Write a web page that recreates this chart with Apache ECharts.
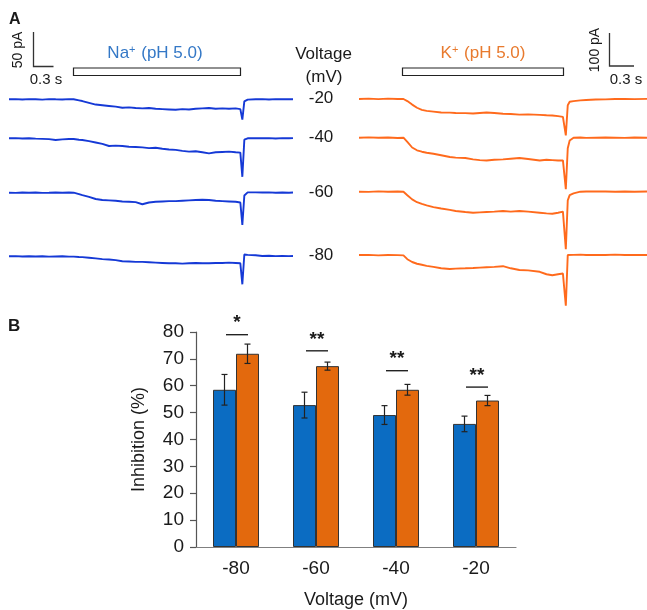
<!DOCTYPE html>
<html><head><meta charset="utf-8">
<script src="https://cdn.jsdelivr.net/npm/echarts@6/dist/echarts.min.js"></script>
<style>html,body{margin:0;padding:0;background:#fff}#c{width:647px;height:610px}</style>
</head><body><div id="c"></div><script>
// ---------- Panel A: current traces ----------
var traceVoltages = ['-20', '-40', '-60', '-80'];
// Na+ (pH 5.0) traces: time (s) and current (pA)
var naTime = [0,0.1,0.2,0.3,0.4,0.5,0.6,0.7,0.8,0.9,0.97,1.05,1.1,1.2,1.3,1.4,1.5,1.6,1.7,1.8,1.9,2.0,2.1,2.2,2.3,2.4,2.5,2.6,2.7,2.8,2.9,3.0,3.1,3.2,3.3,3.4,3.47,3.5,3.53,3.58,3.7,3.8,3.9,4.0,4.1,4.2,4.26];
var naM20 = [0,0.3,-0.3,0.2,0,-0.4,0.3,0,-0.2,0.3, 0,-1.5, -2.5,-5,-7.5,-8.5,-9.5,-10.5,-12,-11.5,-12.5,-13,-12.5,-13.5,-14,-14.5,-15,-14,-14.5,-13.5,-13,-12.5,-13.5,-13,-13.5,-13, -14,-29,-3,-0.5, 0,0.3,-0.2,0.2,0,0.3,0];
var naM40 = [0,0.2,-0.3,0,-0.5,-0.8,-1.2,-2.4,-1.5,-1, -1,-2, -2.5,-4,-6,-8,-11,-10.5,-11,-12,-12.5,-13,-14,-13.5,-15,-16,-16.5,-18,-19,-18.5,-20,-21.5,-20,-19.5,-19,-20, -20.5,-55,-2,0, 0.3,0,0.2,-0.2,0.2,0,0.2];
var naM60 = [0,-0.3,0.2,0,0.3,-0.2,0,0.3,0,0.2, 0,-2, -3.5,-6,-9,-10.5,-11,-11.5,-12.5,-13,-13.5,-16.5,-14,-13,-12.5,-12,-12,-11.5,-11,-10.5,-10,-10.5,-11.5,-12,-12.5,-13, -14,-46,-4,0.5, 0.5,0.2,0.4,0,0.3,0,0.2];
var naM80 = [0,0.3,-0.2,0,-0.3,0,-0.4,-0.2,0,-0.5, -0.5,-1, -1.2,-2,-3,-4,-4.5,-5.5,-7,-7.5,-8,-8,-8.5,-9,-9.5,-10,-10,-10.5,-10,-9.5,-10,-10,-9.5,-9.5,-9,-9.5, -10,-40,2.5,2, 1.5,0.5,0.8,0.3,0.5,0.2,0.5];
// K+ (pH 5.0) traces
var kTime = [0,0.1,0.2,0.3,0.4,0.46,0.5,0.55,0.6,0.65,0.7,0.77,0.85,0.94,1.0,1.1,1.18,1.25,1.32,1.4,1.49,1.57,1.66,1.75,1.87,1.94,2.0,2.06,2.11,2.14,2.16,2.18,2.22,2.29,2.35,2.45,2.55,2.65,2.75,2.85,2.98];
var kM20 = [0,1,-0.5,1,0, 0, -6,-16,-25,-31,-34, -36,-38.5,-39, -40,-40.5,-41.5,-40,-38.5,-40,-42,-43,-44.5,-44,-45.5,-46.5,-47,-49,-51, -104, -18,-8,-6,-4,-3, -1.5,-1,0,0.5,-0.5,0.5];
var kM40 = [0,1,0,0.5,-1, 0, -12,-28,-36,-40,-43, -46,-50,-55, -57,-58,-62,-64,-65,-63,-62,-60,-58,-61,-65,-63,-64,-65,-65, -147, -30,-8,0,0.5,-0.5, 0,0.5,0,-0.5,0.5,0];
var kM60 = [0,-0.5,1,0,0.5, 0, -10,-22,-30,-35,-39, -44,-48,-52, -55,-58,-60,-59,-58,-57,-55,-57,-55,-57,-60,-62,-63,-60,-57, -164, -25,-10,-5,0,0.5, 1,0.5,0,0.5,0,0.5];
var kM80 = [0,0.5,-1,0,-0.5, -1, -12,-20,-25,-28,-31, -34,-38,-40, -39,-38,-37,-36,-35,-34,-32,-38,-43,-44,-48,-55,-58,-55,-53, -145, 0,1,0.5,1,0, 0.5,0,1,0,0.5,0];

// ---------- Panel B: inhibition bar chart ----------
var categories = ['-80', '-60', '-40', '-20'];
var naMean = [58.5, 52.8, 49.1, 45.8];
var naErr  = [5.7, 4.8, 3.5, 2.9];
var kMean  = [71.9, 67.3, 58.5, 54.5];
var kErr   = [3.6, 1.5, 2.0, 1.9];
var sigLevel = [79, 73, 65.6, 59.5];
var sigText  = ['*', '**', '**', '**'];
var yTicks = [0, 10, 20, 30, 40, 50, 60, 70, 80];

var FONT = '"Liberation Sans", Arial, sans-serif';
var BLUE_TRACE = '#1539d6', ORANGE_TRACE = '#ff6a1c';
var BLUE_BAR = '#0b6cc2', ORANGE_BAR = '#e3690d';

function pairs(t, v) { return t.map(function (x, i) { return [x, v[i]]; }); }

var naTraces = [naM20, naM40, naM60, naM80];
var kTraces = [kM20, kM40, kM60, kM80];
var naBase = [99.3, 138.3, 192.7, 256.3];
var kBase = [99, 137.7, 191.7, 255];

var grids = [], xAxes = [], yAxes = [], series = [];
for (var i = 0; i < 4; i++) {
  grids.push({ left: 9, width: 284, top: naBase[i] - 7, height: 56 });
  xAxes.push({ gridIndex: grids.length - 1, type: 'value', min: 0, max: 4.26, show: false });
  yAxes.push({ gridIndex: grids.length - 1, type: 'value', min: -70, max: 10, show: false });
  series.push({ type: 'line', xAxisIndex: grids.length - 1, yAxisIndex: grids.length - 1,
    data: pairs(naTime, naTraces[i]), symbol: 'none', silent: true,
    lineStyle: { color: BLUE_TRACE, width: 1.9 } });
}
for (var j = 0; j < 4; j++) {
  grids.push({ left: 359, width: 288, top: kBase[j] - 7, height: 70 });
  xAxes.push({ gridIndex: grids.length - 1, type: 'value', min: 0, max: 2.98, show: false });
  yAxes.push({ gridIndex: grids.length - 1, type: 'value', min: -180, max: 20, show: false });
  series.push({ type: 'line', xAxisIndex: grids.length - 1, yAxisIndex: grids.length - 1,
    data: pairs(kTime, kTraces[j]), symbol: 'none', silent: true,
    lineStyle: { color: ORANGE_TRACE, width: 1.9 } });
}

var bg = grids.length;
grids.push({ left: 196, top: 332, width: 320, height: 215.3 });
xAxes.push({ gridIndex: bg, type: 'category', data: categories,
  axisLine: { lineStyle: { color: '#808080', width: 1.2 } }, axisTick: { show: false },
  axisLabel: { fontFamily: FONT, fontSize: 19, color: '#1a1a1a', margin: 12 },
  name: 'Voltage (mV)', nameLocation: 'middle', nameGap: 44,
  nameTextStyle: { fontFamily: FONT, fontSize: 18, color: '#1a1a1a' } });
yAxes.push({ gridIndex: bg, type: 'value', min: yTicks[0], max: yTicks[yTicks.length - 1], interval: yTicks[1] - yTicks[0],
  axisLine: { show: true, lineStyle: { color: '#555', width: 1.2 } },
  axisTick: { show: true, length: 6, lineStyle: { color: '#555', width: 1.2 } },
  splitLine: { show: false },
  axisLabel: { fontFamily: FONT, fontSize: 19, color: '#1a1a1a', margin: 12 },
  name: 'Inhibition (%)', nameLocation: 'middle', nameGap: 48,
  nameTextStyle: { fontFamily: FONT, fontSize: 18, color: '#1a1a1a' } });

series.push({ type: 'bar', xAxisIndex: bg, yAxisIndex: bg, data: naMean, barWidth: 23, barGap: '0%',
  itemStyle: { color: BLUE_BAR, borderColor: '#333', borderWidth: 1 } });
series.push({ type: 'bar', xAxisIndex: bg, yAxisIndex: bg, data: kMean, barWidth: 23, barGap: '0%',
  itemStyle: { color: ORANGE_BAR, borderColor: '#333', borderWidth: 1 } });

function errSeries(means, errs, off) {
  return { type: 'custom', xAxisIndex: bg, yAxisIndex: bg, z: 5, silent: true,
    data: means.map(function (m, k) { return [k, m, errs[k]]; }),
    renderItem: function (params, api) {
      var k = api.value(0), m = api.value(1), e = api.value(2);
      var t = api.coord([k, m + e]), b = api.coord([k, m - e]);
      var x = t[0] + off, cw = 3;
      var st = { stroke: '#222', lineWidth: 1.2 };
      return { type: 'group', children: [
        { type: 'line', shape: { x1: x, y1: t[1], x2: x, y2: b[1] }, style: st },
        { type: 'line', shape: { x1: x - cw, y1: t[1], x2: x + cw, y2: t[1] }, style: st },
        { type: 'line', shape: { x1: x - cw, y1: b[1], x2: x + cw, y2: b[1] }, style: st }
      ] };
    } };
}
series.push(errSeries(naMean, naErr, -11.5));
series.push(errSeries(kMean, kErr, 11.5));
series.push({ type: 'custom', xAxisIndex: bg, yAxisIndex: bg, z: 5, silent: true,
  data: sigLevel.map(function (v, k) { return [k, v]; }),
  renderItem: function (params, api) {
    var k = api.value(0), p = api.coord([k, api.value(1)]);
    return { type: 'group', children: [
      { type: 'line', shape: { x1: p[0] - 10, y1: p[1], x2: p[0] + 12, y2: p[1] }, style: { stroke: '#222', lineWidth: 1.4 } },
      { type: 'text', style: { text: sigText[k], x: p[0] + 1, y: p[1] - 2, align: 'center', verticalAlign: 'bottom',
        font: 'bold 19px ' + FONT, fill: '#1a1a1a' } }
    ] };
  } });

function txt(s, x, y, size, opts) {
  opts = opts || {};
  return { type: 'text', x: x, y: y, rotation: opts.rot || 0, silent: true,
    style: { text: s, font: (opts.bold ? 'bold ' : '') + size + 'px ' + FONT, fill: opts.color || '#1a1a1a',
      align: opts.align || 'center', verticalAlign: opts.valign || 'middle', rich: opts.rich } };
}
var graphics = [
  txt('A', 9, 20, 16, { bold: true, align: 'left' }),
  txt('B', 8, 326, 17, { bold: true, align: 'left' }),
  { type: 'polyline', silent: true, shape: { points: [[33.5, 32], [33.5, 66.5], [53.5, 66.5]] }, style: { stroke: '#333', lineWidth: 1.3, fill: null } },
  txt('50 pA', 18, 50, 14, { rot: Math.PI / 2 }),
  txt('0.3 s', 46, 80, 15),
  { type: 'rect', silent: true, shape: { x: 73.5, y: 68, width: 167, height: 7.5 }, style: { stroke: '#222', lineWidth: 1.2, fill: '#fff' } },
  txt('{a|Na}{s|+}{a| (pH 5.0)}', 155, 53, 17, { color: '#3478c6', rich: {
      a: { fontFamily: FONT, fontSize: 17, color: '#3478c6' },
      s: { fontFamily: FONT, fontSize: 11, color: '#3478c6', verticalAlign: 'top', padding: [0, 1, 0, 0] } } }),
  { type: 'polyline', silent: true, shape: { points: [[609.5, 33], [609.5, 66], [634, 66]] }, style: { stroke: '#333', lineWidth: 1.3, fill: null } },
  txt('100 pA', 595, 50, 14, { rot: Math.PI / 2 }),
  txt('0.3 s', 626, 80, 15),
  { type: 'rect', silent: true, shape: { x: 402.5, y: 68, width: 161, height: 7.5 }, style: { stroke: '#222', lineWidth: 1.2, fill: '#fff' } },
  txt('{a|K}{s|+}{a| (pH 5.0)}', 483, 53, 17, { color: '#e87a2e', rich: {
      a: { fontFamily: FONT, fontSize: 17, color: '#e87a2e' },
      s: { fontFamily: FONT, fontSize: 11, color: '#e87a2e', verticalAlign: 'top', padding: [0, 1, 0, 0] } } }),
  txt('Voltage', 323.5, 54, 17),
  txt('(mV)', 324, 77, 17)
];
for (var v = 0; v < 4; v++) graphics.push(txt(traceVoltages[v], 321, naBase[v] - 0.5, 17));

var chart = echarts.init(document.getElementById('c'), null, { renderer: 'canvas' });
chart.setOption({
  animation: false,
  backgroundColor: '#fff',
  grid: grids, xAxis: xAxes, yAxis: yAxes, series: series,
  graphic: { elements: graphics }
});
</script></body></html>
